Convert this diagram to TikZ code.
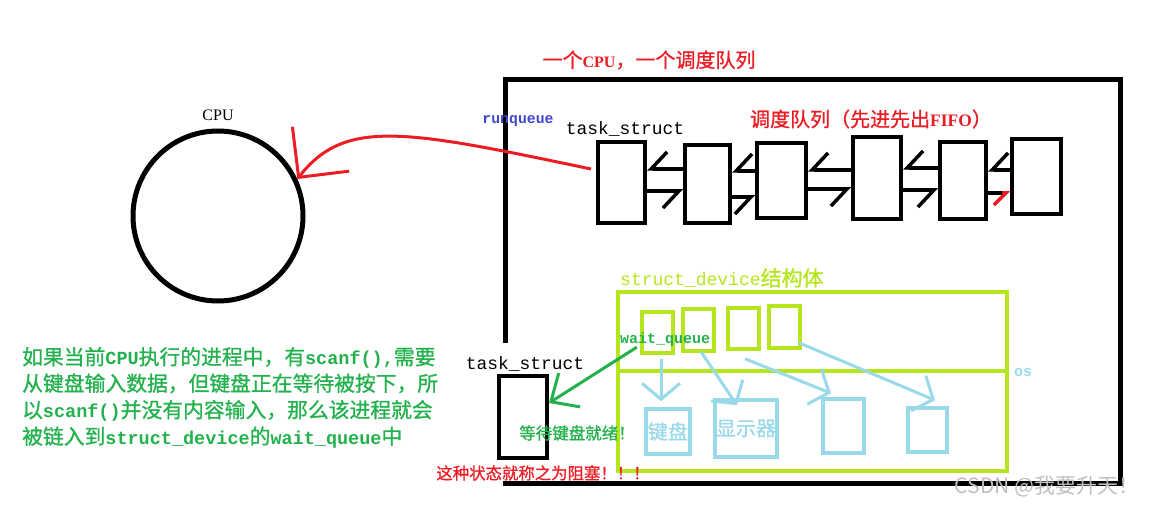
\documentclass[tikz,border=0pt]{standalone}
\usepackage{fontspec}
\setmainfont{Noto Sans CJK SC}[FakeBold=0.9]
\setmonofont{Liberation Mono}
\newfontfamily\thincjk{Noto Sans CJK SC}
\newfontfamily\latinserif{Liberation Serif}
\usetikzlibrary{arrows.meta}
\definecolor{paintred}{RGB}{237,28,36}
\definecolor{paintlime}{RGB}{181,230,29}
\definecolor{skyblue}{RGB}{153,217,234}
\definecolor{darkgreen}{RGB}{34,177,76}
\definecolor{rqblue}{RGB}{63,72,204}
\newcommand\px[1]{\fontsize{#1}{#1}\selectfont}
\newcommand\hw[1]{{\ttfamily\bfseries\fontsize{18.5}{26.5}\selectfont #1}}
\newcommand\sw[1]{{\latinserif\bfseries #1}}

\begin{document}
\begin{tikzpicture}[x=1pt,y=-1pt,inner sep=0pt,
  qbox/.style={draw,line width=4pt},
  backlink/.style={line width=3.5pt,-{Straight Barb[harpoon,swap,length=16pt,width=34pt]}},
  fwdlink/.style={line width=3.5pt,-{Straight Barb[harpoon,swap,length=16pt,width=34pt]}},
  sbox/.style={draw=paintlime,line width=3.5pt,minimum width=31,minimum height=41},
  dbox/.style={draw=skyblue,line width=3.5pt,text=skyblue,font=\px{20}},
  devarrow/.style={skyblue,line width=3pt,-{Straight Barb[length=16pt,width=38pt]}}]
\useasboundingbox (0,0) rectangle (1153,505);

% cpu and the run queue
\node[draw,circle,line width=5pt,minimum size=170] (cpu) at (218,216) {};
\node[font=\latinserif\px{16}] (cpulabel) at (218,115) {CPU};
\draw[line width=5pt] (505,343) -- (505,80) -- (1120,80) -- (1120,483) -- (503,483);
\node[text=paintred,font=\px{20}] (title) at (649,60) {一个{\px{16}\sw{CPU}}，一个调度队列};
\node[text=rqblue,font=\ttfamily\bfseries\px{14.8}] (rq) at (518,121) {runqueue};
\node[font=\ttfamily\px{17.9}] (tslabel) at (625,129) {task\_struct};
\node[text=paintred,font=\px{20}] (fifo) at (871,119) {调度队列（先进先出{\px{17.5}\sw{FIFO}}）};

\node[qbox,minimum width=47,minimum height=81] (q1) at (621.5,182.5) {};
\node[qbox,minimum width=45,minimum height=78] (q2) at (707.5,184) {};
\node[qbox,minimum width=49,minimum height=75] (q3) at (781.5,180.5) {};
\node[qbox,minimum width=48,minimum height=82] (q4) at (877,178) {};
\node[qbox,minimum width=46,minimum height=77] (q5) at (963,180.5) {};
\node[qbox,minimum width=49,minimum height=75] (q6) at (1036.5,176.5) {};

\draw[backlink] ([yshift=15pt]q2.west) -- ([yshift=13.5pt]q1.east);
\draw[fwdlink] ([yshift=-8.5pt]q1.east) -- ([yshift=-7pt]q2.west);
\draw[backlink] ([yshift=9.5pt]q3.west) -- ([yshift=13pt]q2.east);
\draw[fwdlink] ([yshift=-13pt]q2.east) -- ([yshift=-16.5pt]q3.west);
\draw[backlink] ([yshift=8pt]q4.west) -- ([yshift=10.5pt]q3.east);
\draw[fwdlink] ([yshift=-8.5pt]q3.east) -- ([yshift=-11pt]q4.west);
\draw[backlink] ([yshift=12.5pt]q5.west) -- ([yshift=10pt]q4.east);
\draw[fwdlink] ([yshift=-12pt]q4.east) -- ([yshift=-9.5pt]q5.west);
\draw[backlink] ([yshift=6.5pt]q6.west) -- ([yshift=10.5pt]q5.east);
\draw[line width=3.5pt,-{Straight Barb[harpoon,swap,length=12pt,width=24pt,color=paintred]}]
  ([yshift=-12.5pt]q5.east) -- ([yshift=-16.5pt]q6.west);

\draw[paintred,line width=3pt,-{Straight Barb[length=36pt,width=72pt]}]
  ([xshift=-5pt,yshift=13.5pt]q1.west) .. controls (405,130) and (345,118) .. (cpu.25);

% device part
\node[draw=paintlime,line width=3.5pt,minimum width=389,minimum height=179] (dev) at (812.5,381.5) {};
\coordinate (midy) at (0,371);
\draw[paintlime,line width=3.5pt] (dev.west |- midy) -- (dev.east |- midy);
\node[text=paintlime,font=\px{21},anchor=west] (devlabel) at (620,278) {{\ttfamily\px{18}struct\_device}结构体};
\node[text=skyblue,font=\ttfamily\bfseries\px{15}] (os) at (1023,373) {os};

\node[sbox] (s1) at (657.5,332.5) {};
\node[sbox,minimum height=42] (s2) at (698.5,330) {};
\node[sbox] (s3) at (743.5,328.5) {};
\node[sbox,minimum height=42] (s4) at (784.5,327) {};
\node[text=darkgreen,font=\ttfamily\bfseries\px{15}] (wq) at (665,340) {wait\_queue};

\node[dbox,minimum width=44,minimum height=45] (d1) at (668,431.5) {键盘};
\node[dbox,minimum width=62,minimum height=57] (d2) at (746,428.5) {显示器};
\node[dbox,minimum width=41,minimum height=54] (d3) at (843.5,426) {};
\node[dbox,minimum width=39,minimum height=44] (d4) at (927.5,430) {};

\draw[devarrow] ([xshift=3.5pt,yshift=-4pt]s1.south) -- ([xshift=-7pt,yshift=6pt]d1.north);
\draw[devarrow] ([xshift=2.5pt,yshift=1pt]s2.south) -- ([xshift=-9pt,yshift=-7pt]d2.north);
\draw[devarrow] ([xshift=1.5pt,yshift=-8pt]s3.south) -- ([xshift=-12.5pt,yshift=4pt]d3.north);
\draw[devarrow] ([xshift=-3pt,yshift=7pt]s4.south east) -- ([xshift=7.5pt,yshift=6pt]d4.north);

% blocked process
\node[font=\ttfamily\px{17.9}] (ts2label) at (525,364) {task\_struct};
\node[qbox,minimum width=48,minimum height=82] (ts2) at (523,417) {};
\draw[darkgreen,line width=3pt,-{Straight Barb[length=22pt,width=40pt]}]
  ([xshift=17pt]wq.south west) -- ([yshift=14pt]ts2.east);
\node[text=darkgreen,font=\px{16.5}] (ready) at (577,433) {等待键盘就绪！};
\node[text=paintred,font=\px{16.4}] (blocked) at (543,473) {这种状态就称之为阻塞！！！};

\node[text=darkgreen,font=\fontsize{20.8}{26.5}\selectfont,align=left,anchor=west] (note) at (22,397.5)
  {如果当前\hw{CPU}执行的进程中，有\hw{scanf(),}需要\\从键盘输入数据，但键盘正在等待被按下，所\\以\hw{scanf()}并没有内容输入，那么该进程就会\\被链入到\hw{struct\_device}的\hw{wait\_queue}中};

\node[text=black!25,font=\thincjk\px{21}] (mark) at (1047,487) {CSDN @我要升天！};
\end{tikzpicture}
\end{document}
